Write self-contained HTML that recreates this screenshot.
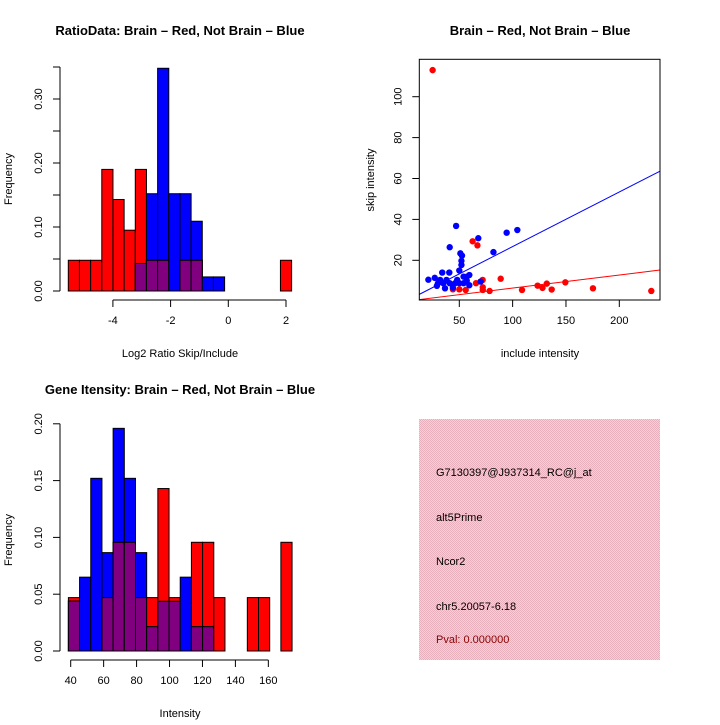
<!DOCTYPE html>
<html><head><meta charset="utf-8"><style>
body{margin:0;background:#fff}
svg text{font-family:"Liberation Sans",sans-serif;fill:#000}
</style></head><body>
<svg id="s" width="720" height="720" xmlns="http://www.w3.org/2000/svg">
<defs><pattern id="hatch" width="2" height="2" patternUnits="userSpaceOnUse"><rect width="2" height="2" fill="#f6d0d8"/><rect width="1" height="1" fill="#e8b0bc"/><rect x="1" y="1" width="1" height="1" fill="#e8b0bc"/></pattern></defs>
</svg>
<script>
// ---- ratio histogram data ----
const ratioStart=-5.546, ratioBinW=0.387;
const ratioRed=[0.048,0.048,0.048,0.19,0.143,0.095,0.19,0.048,0.048,0,0.048,0.048,0,0,0,0,0,0,0,0.048];
const ratioBlue=[0,0,0,0,0,0,0.043,0.152,0.348,0.152,0.152,0.109,0.022,0.022,0,0,0,0,0,0];
const ratioXTicks=[-4,-2,0,2];
const ratioYTicks=[0,0.05,0.1,0.15,0.2,0.25,0.3,0.35];
const ratioYLabels=["0.00","","0.10","","0.20","","0.30",""];
// ---- intensity histogram data ----
const intStart=38.6, intBinW=6.79;
const intRed=[0.047,0,0,0.047,0.0957,0.0957,0.047,0.047,0.143,0.047,0,0.0957,0.0957,0.047,0,0,0.047,0.047,0,0.0957];
const intBlue=[0.044,0.065,0.152,0.0866,0.196,0.152,0.0866,0.0214,0.0437,0.0437,0.065,0.0214,0.0214,0,0,0,0,0,0,0];
const intXTicks=[40,60,80,100,120,140,160];
const intYTicks=[0,0.05,0.1,0.15,0.2];
const intYLabels=["0.00","0.05","0.10","0.15","0.20"];
// ---- scatter data ----
const redX=[25,62.5,67,65.6,71.9,72,72,78.4,88.8,108.8,123.4,128,132,136.6,149.4,175.3,230,50,56,44];
const redY=[113,29.3,27.3,8.8,10.4,6.8,5.5,5,11,5.5,7.6,6.5,8.6,5.7,9.2,6.3,5,5.8,5.5,5.8];
const blueX=[21,27,29,34,32,40.6,36.6,41,44,47,41,51,52.5,52,52,50,48,54,59.4,57,59.4,67.8,82,94.4,104.4,70,38,35,30,54,50,46,57];
const blueY=[10.5,11.4,7.5,14,10.4,14,6.3,8.8,6.6,36.8,26.4,23.4,22.3,19.7,17.7,15,10.4,12,12.8,10,7.8,30.8,24,33.5,34.8,9.6,10.4,8.8,8.8,8.8,8.8,8.8,12];
const blueSlope=0.267, redSlope=0.064;
const scXTicks=[50,100,150,200];
const scYTicks=[20,40,60,80,100];

const svg=document.getElementById('s');
const NS='http://www.w3.org/2000/svg';
function mk(tag,attrs,name,parent){const e=document.createElementNS(NS,tag);for(const k in attrs)e.setAttribute(k,attrs[k]);


(parent||svg).appendChild(e);return e;}
function txt(x,y,s,name,opt){opt=opt||{};const a={x:x,y:y,'font-size':opt.size||11,'text-anchor':opt.anchor||'middle'};
if(opt.rot)a.transform='rotate(-90 '+x+' '+y+')';if(opt.bold)a['font-weight']='bold';if(opt.fill)a.style='fill:'+opt.fill;
const t=mk('text',a,name);t.textContent=s;return t;}
function line(x1,y1,x2,y2,name,col,w){return mk('line',{x1:x1,y1:y1,x2:x2,y2:y2,stroke:col||'#000','stroke-width':w||1},name);}

function hist(o){
  const sx=v=>o.x0+(v-o.xv0)*o.kx, sy=v=>o.y0-v*o.ky;
  const g=mk('g',{},o.name+'-bars');
  for(let i=0;i<o.red.length;i++){
    const a=sx(o.start+i*o.w), b=sx(o.start+(i+1)*o.w);
    const r=o.red[i], bl=o.blue[i], m=Math.min(r,bl);
    if(r>0){const e=mk('rect',{x:a,y:sy(r),width:b-a,height:sy(0)-sy(r),fill:'#f00',stroke:'#000','stroke-width':1},'red-bar-'+i,g);}
    if(bl>0){const e=mk('rect',{x:a,y:sy(bl),width:b-a,height:sy(0)-sy(bl),fill:'#00f',stroke:'#000','stroke-width':1},'blue-bar-'+i,g);}
    if(m>0){const e=mk('rect',{x:a,y:sy(m),width:b-a,height:sy(0)-sy(m),fill:'#800080',stroke:'#000','stroke-width':1},'overlap-bar-'+i,g);}
  }
  // y axis
  line(o.yAxisX,sy(o.yt[0]),o.yAxisX,sy(o.yt[o.yt.length-1]),'y-axis');
  o.yt.forEach((v,i)=>{line(o.yAxisX-7,sy(v),o.yAxisX,sy(v),'y-tick');if(o.yl[i])txt(o.yAxisX-18,sy(v),o.yl[i],'y-tick-label',{rot:1});});
  // x axis
  const xa=o.y0+9;
  line(sx(o.xt[0]),xa,sx(o.xt[o.xt.length-1]),xa,'x-axis');
  o.xt.forEach(v=>{line(sx(v),xa,sx(v),xa+7,'x-tick');txt(sx(v),xa+24,String(v),'x-tick-label');});
}
hist({name:'ratio',red:ratioRed,blue:ratioBlue,start:ratioStart,w:ratioBinW,x0:228.3,xv0:0,kx:28.85,y0:291,ky:640,yAxisX:60,xt:ratioXTicks,yt:ratioYTicks,yl:ratioYLabels});
hist({name:'intensity',red:intRed,blue:intBlue,start:intStart,w:intBinW,x0:70.7,xv0:40,kx:1.647,y0:651,ky:1136,yAxisX:60,xt:intXTicks,yt:intYTicks,yl:intYLabels});

txt(180,35,'RatioData: Brain – Red, Not Brain – Blue','ratio-title',{size:13,bold:1});
txt(180,357,'Log2 Ratio Skip/Include','ratio-x-title');
txt(12,179,'Frequency','ratio-y-title',{rot:1});
txt(180,394,'Gene Itensity: Brain – Red, Not Brain – Blue','intensity-title',{size:13,bold:1});
txt(180,717,'Intensity','intensity-x-title');
txt(12,540,'Frequency','intensity-y-title',{rot:1});

// scatter
const L=419.3,R=660,T=59.3,B=300;
const px=v=>459.3+(v-50)*1.0667, py=v=>301.2-v*2.045;
mk('clipPath',{id:'clp'},'clip');
mk('rect',{x:L,y:T,width:R-L,height:B-T},'clip-rect',svg.lastChild);
const sg=mk('g',{'clip-path':'url(#clp)'},'scatter-plot-area');
const xv0=(L-459.3)/1.0667+50, xv1=(R-459.3)/1.0667+50;
mk('line',{x1:px(xv0),y1:py(blueSlope*xv0),x2:px(xv1),y2:py(blueSlope*xv1),stroke:'#00f'},'blue-fit-line',sg);
mk('line',{x1:px(xv0),y1:py(redSlope*xv0),x2:px(xv1),y2:py(redSlope*xv1),stroke:'#f00'},'red-fit-line',sg);
redX.forEach((v,i)=>mk('circle',{cx:px(v),cy:py(redY[i]),r:3.2,fill:'#f00'},'red-point',sg));
blueX.forEach((v,i)=>mk('circle',{cx:px(v),cy:py(blueY[i]),r:3.2,fill:'#00f'},'blue-point',sg));
mk('rect',{x:L,y:T,width:R-L,height:B-T,fill:'none',stroke:'#000'},'scatter-frame');
scXTicks.forEach(v=>{line(px(v),B,px(v),B+7,'x-tick');txt(px(v),B+24,String(v),'x-tick-label');});
scYTicks.forEach(v=>{line(L-7,py(v),L,py(v),'y-tick');txt(L-18,py(v),String(v),'y-tick-label',{rot:1});});
txt(540,35,'Brain – Red, Not Brain – Blue','scatter-title',{size:13,bold:1});
txt(540,357,'include intensity','scatter-x-title');
txt(374,180,'skip intensity','scatter-y-title',{rot:1});

// info panel
mk('rect',{x:419,y:419,width:241,height:241,fill:'url(#hatch)'},'info-panel');
txt(436,476,'G7130397@J937314_RC@j_at','probe-id',{anchor:'start'});
txt(436,521,'alt5Prime','event-type',{anchor:'start'});
txt(436,565,'Ncor2','gene-name',{anchor:'start'});
txt(436,610,'chr5.20057-6.18','location',{anchor:'start'});
txt(436,643,'Pval: 0.000000','pval',{anchor:'start',fill:'#8b0000'});
</script>
</body></html>
